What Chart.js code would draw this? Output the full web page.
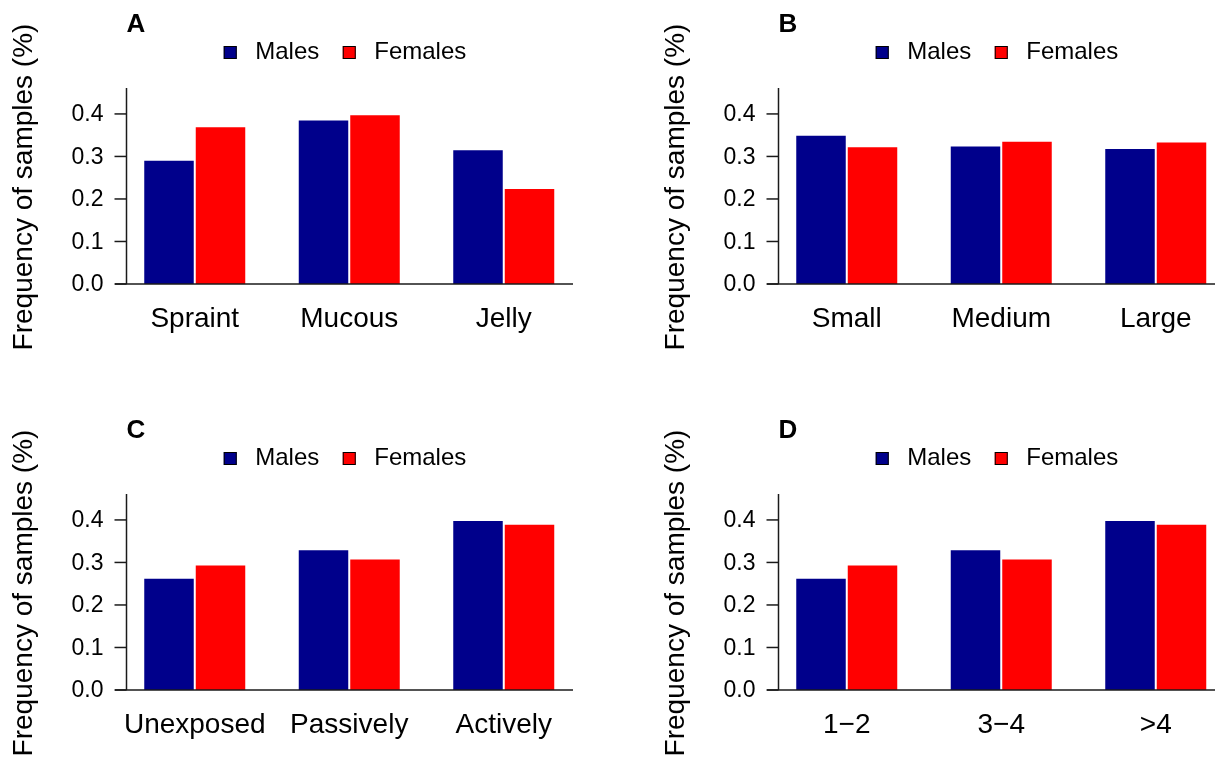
<!DOCTYPE html>
<html>
<head>
<meta charset="utf-8">
<title>Frequency of samples by sex</title>
<script src="https://cdn.jsdelivr.net/npm/chart.js@4.4.1/dist/chart.umd.min.js"></script>
<style>
  html, body { margin: 0; padding: 0; background: #fff; overflow: hidden; }
  body { width: 1215px; height: 759px; position: relative; }
  .panel { position: absolute; width: 620px; height: 400px; }
  .panel canvas { display: block; }
</style>
</head>
<body>
<div class="panel" style="left:0;top:0"><canvas id="chartA" width="620" height="400"></canvas></div>
<div class="panel" style="left:652px;top:0"><canvas id="chartB" width="620" height="400"></canvas></div>
<div class="panel" style="left:0;top:406px"><canvas id="chartC" width="620" height="400"></canvas></div>
<div class="panel" style="left:652px;top:406px"><canvas id="chartD" width="620" height="400"></canvas></div>

<script>
// data
const seriesNames = ['Males', 'Females'];
const seriesColors = ['#00008b', '#ff0000'];
const yTicks = [0, 0.1, 0.2, 0.3, 0.4];
const yAxisTop = 0.461;
const yTitle = 'Frequency of samples (%)';

const catsA = ['Spraint', 'Mucous', 'Jelly'];
const malesA = [0.292, 0.387, 0.317];
const femalesA = [0.371, 0.399, 0.226];

const catsB = ['Small', 'Medium', 'Large'];
const malesB = [0.351, 0.326, 0.320];
const femalesB = [0.324, 0.337, 0.335];

const catsC = ['Unexposed', 'Passively', 'Actively'];
const malesC = [0.264, 0.331, 0.400];
const femalesC = [0.295, 0.309, 0.391];

const catsD = ['1\u22122', '3\u22124', '>4'];
const malesD = [0.264, 0.331, 0.400];
const femalesD = [0.295, 0.309, 0.391];

const FONT = '"Liberation Sans", Arial, Helvetica, sans-serif';

// R-style axes, panel letter and legend drawn on top of the chart
const rStyle = {
  id: 'rStyle',
  afterDraw(chart, args, opts) {
    const { ctx, chartArea } = chart;
    const y = chart.scales.y;
    const axisX = chartArea.left + 9;
    const y0 = y.getPixelForValue(0);

    ctx.save();
    ctx.strokeStyle = '#1a1a1a';
    ctx.lineWidth = 1.5;

    // x axis line
    ctx.beginPath();
    ctx.moveTo(chartArea.left - 2.5, y0);
    ctx.lineTo(chartArea.right - 8, y0);
    ctx.stroke();

    // y axis line
    ctx.beginPath();
    ctx.moveTo(axisX, y0);
    ctx.lineTo(axisX, y.getPixelForValue(yAxisTop));
    ctx.stroke();

    // y ticks + labels
    ctx.font = '23px ' + FONT;
    ctx.fillStyle = '#000';
    ctx.textAlign = 'right';
    ctx.textBaseline = 'middle';
    yTicks.forEach(v => {
      const py = y.getPixelForValue(v);
      ctx.beginPath();
      ctx.moveTo(axisX - 12, py);
      ctx.lineTo(axisX, py);
      ctx.stroke();
      ctx.fillText(v.toFixed(1), axisX - 23, py + 1);
    });

    // y title
    ctx.save();
    ctx.translate(31.5, (chartArea.top + y0) / 2 + 1);
    ctx.rotate(-Math.PI / 2);
    ctx.font = '28px ' + FONT;
    ctx.textAlign = 'center';
    ctx.textBaseline = 'alphabetic';
    ctx.fillText(yTitle, 0, 0);
    ctx.restore();

    // panel letter
    ctx.font = 'bold 26px ' + FONT;
    ctx.textAlign = 'left';
    ctx.textBaseline = 'middle';
    ctx.fillText(opts.letter, axisX, 25);

    // legend
    ctx.font = '24px ' + FONT;
    const box = 13, gapText = 18.5, gapItem = 23.5;
    const widths = seriesNames.map(n => ctx.measureText(n).width);
    const total = seriesNames.length * (box + gapText) + widths.reduce((a, b) => a + b, 0) + gapItem * (seriesNames.length - 1);
    let lx = chartArea.left + 227.5 - total / 2;
    const ly = 52.5;
    ctx.lineWidth = 1;
    ctx.strokeStyle = '#000';
    seriesNames.forEach((n, i) => {
      ctx.fillStyle = seriesColors[i];
      ctx.fillRect(lx, ly - box / 2, box, box);
      ctx.strokeRect(lx + 0.5, ly - box / 2 + 0.5, box - 1, box - 1);
      ctx.fillStyle = '#000';
      ctx.fillText(n, lx + box + gapText, ly);
      lx += box + gapText + widths[i] + gapItem;
    });

    ctx.restore();
  }
};

function makePanel(id, letter, labels, males, females) {
  return new Chart(document.getElementById(id), {
    type: 'bar',
    data: {
      labels: labels,
      datasets: [
        { label: seriesNames[0], data: males, backgroundColor: seriesColors[0] },
        { label: seriesNames[1], data: females, backgroundColor: seriesColors[1] }
      ]
    },
    options: {
      responsive: false,
      animation: false,
      devicePixelRatio: 1,
      layout: { padding: { left: 117.5, right: 39, top: 88, bottom: 56 } },
      datasets: {
        bar: {
          categoryPercentage: 2 / 3,
          barPercentage: 1,
          borderWidth: 1,
          borderColor: 'rgba(255,255,255,0.85)'
        }
      },
      scales: {
        x: {
          grid: { display: false, drawTicks: false },
          border: { display: false },
          ticks: {
            color: '#000',
            font: { family: FONT, size: 28 },
            padding: 18,
            maxRotation: 0,
            autoSkip: false
          },
          afterFit: s => { s.height = 60; }
        },
        y: { display: false, min: 0, max: yAxisTop }
      },
      plugins: {
        legend: { display: false },
        tooltip: { enabled: false },
        rStyle: { letter: letter }
      }
    },
    plugins: [rStyle]
  });
}

makePanel('chartA', 'A', catsA, malesA, femalesA);
makePanel('chartB', 'B', catsB, malesB, femalesB);
makePanel('chartC', 'C', catsC, malesC, femalesC);
makePanel('chartD', 'D', catsD, malesD, femalesD);
</script>
</body>
</html>
